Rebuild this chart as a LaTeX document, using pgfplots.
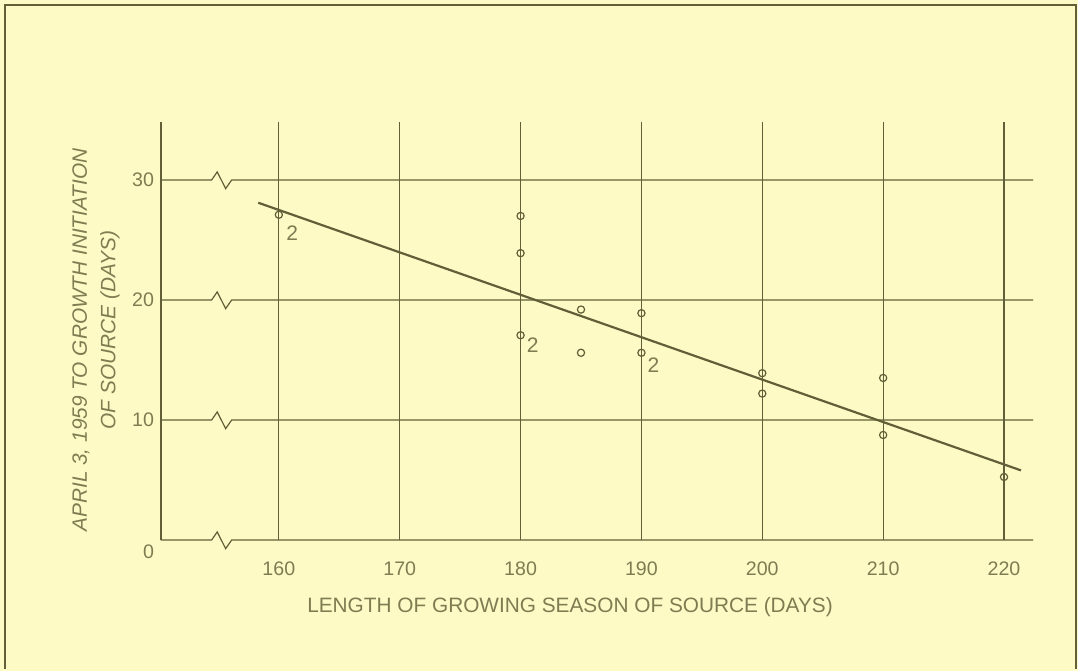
\documentclass[border=0pt]{standalone}
\usepackage{fontspec}
\setmainfont{Liberation Sans}
\usepackage{pgfplots}
\pgfplotsset{compat=1.18}
\definecolor{bg}{HTML}{FDFAC6}
\definecolor{ink}{HTML}{625F38}
\definecolor{txt}{HTML}{7F7C52}
\begin{document}
\begin{tikzpicture}[x=0.5bp,y=0.5bp]
\fill[bg] (-161,-131) rectangle (917,540);
\draw[ink, line width=1bp] (-156,-129) -- (-156,535) -- (915,535) -- (915,-129);
\begin{axis}[at={(0,0)}, anchor=south west, scale only axis,
  width=436bp, height=209bp,
  xmin=150.25, xmax=222.4, ymin=0, ymax=34.83,
  axis x line=bottom, axis y line=left,
  x axis line style={draw=none},
  y axis line style={draw=ink, line width=0.6bp, -},
  tick style={draw=none}, major tick length=0pt,
  xmajorgrids, grid style={draw=ink, line width=0.6bp},
  xtick={160,170,...,220}, ytick={10,20,30},
  extra y ticks={0}, extra y tick labels={0},
  extra y tick style={yticklabel style={yshift=-6bp}, grid=none},
  /pgf/number format/assume math mode=true,
  ticklabel style={font=\fontsize{9.8bp}{11bp}\selectfont, text=txt},
  xticklabel style={yshift=-7.5bp},
  yticklabel style={xshift=0bp},
  clip=false,
]
% horizontal grid lines with break marks
\addplot[ink, line width=0.6bp] coordinates {(150.25,0) (154.44,0) (154.9,0.67) (155.6,-0.72) (156.1,0) (222.4,0)};
\addplot[ink, line width=0.6bp] coordinates {(150.25,10) (154.44,10) (154.9,10.67) (155.6,9.28) (156.1,10) (222.4,10)};
\addplot[ink, line width=0.6bp] coordinates {(150.25,20) (154.44,20) (154.9,20.67) (155.6,19.28) (156.1,20) (222.4,20)};
\addplot[ink, line width=0.6bp] coordinates {(150.25,30) (154.44,30) (154.9,30.67) (155.6,29.28) (156.1,30) (222.4,30)};
% regression line
\addplot[ink, line width=1.1bp] coordinates {(158.3,28.1) (221.4,5.8)};
% observations
\addplot[only marks, mark=o, mark size=1.8bp, mark options={draw=ink, line width=0.6bp, fill=bg}] coordinates {
 (160,27.1) (180,27.0) (180,23.9) (180,17.06) (185,19.2) (185,15.6)
 (190,18.9) (190,15.6) (200,13.9) (200,12.2) (210,13.5) (210,8.75) (220,5.25)};
\node[text=txt, font=\fontsize{10.5bp}{11bp}\selectfont] at (axis cs:161.1,25.6) {2};
\node[text=txt, font=\fontsize{10.5bp}{11bp}\selectfont] at (axis cs:181.0,16.2) {2};
\node[text=txt, font=\fontsize{10.5bp}{11bp}\selectfont] at (axis cs:191.0,14.6) {2};
\end{axis}
\node[text=txt, rotate=90, font=\fontsize{10.4bp}{11bp}\selectfont\itshape] at (-80,200) {APRIL 3, 1959 TO GROWTH INITIATION};
\node[text=txt, rotate=90, font=\fontsize{10.4bp}{11bp}\selectfont\itshape] at (-51,210) {OF SOURCE (DAYS)};
\node[text=txt, font=\fontsize{10.4bp}{11bp}\selectfont] at (409,-67) {LENGTH OF GROWING SEASON OF SOURCE (DAYS)};
\end{tikzpicture}
\end{document}
